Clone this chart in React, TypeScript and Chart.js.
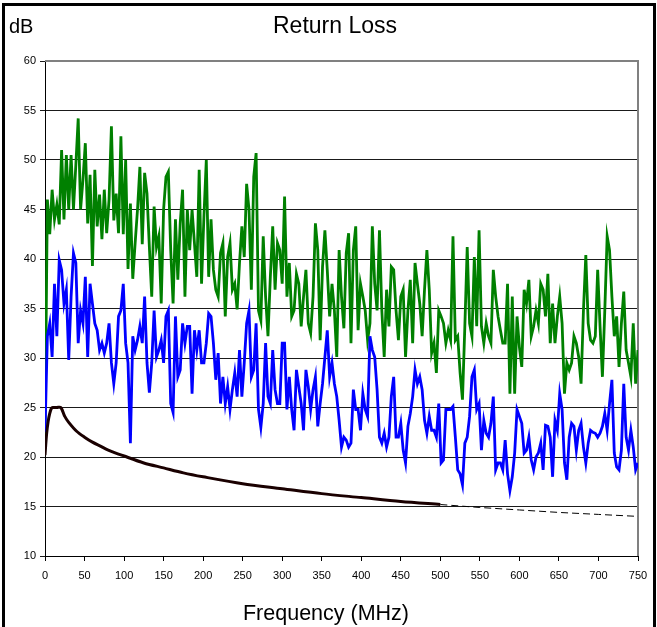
import React, { useEffect, useRef } from "react";
import { Chart, registerables } from "chart.js";

Chart.register(...registerables);

// Measured return loss, green pair (dB), sampled every 3 MHz from 0 to 750 MHz
const greenDb = [
  22, 46, 42.5, 47, 44, 45.5, 43.5, 51, 44, 50.5,
  45, 50.5, 45, 49.5, 54.2, 45, 48, 51.7, 43.6, 48.5,
  39.3, 49, 43.3, 46.5, 42, 47, 42.6, 46, 53.4, 43.9,
  46.6, 42.6, 52.4, 42.5, 50, 39, 45.6, 38, 41.6, 45,
  49.3, 41.5,
  48.7, 46.6, 41.2, 36.2, 45.3, 41.2, 42.3, 35.5, 45, 48.3,
  48.8, 40.9, 35.5, 44, 37.9, 43.6, 47, 36.2, 45, 40.9,
  45, 41.6, 38.2, 49, 37.5, 44.3, 50, 38.2, 44, 38.9,
  36.9, 36.2, 40.6, 41.6, 34.2, 40.2, 41.6, 36.9, 37.5, 34.9,
  39.6, 43.3,
  40.2, 47.6, 45, 36.9, 48.3, 50.7, 34.8, 33.8, 42.3, 36.2,
  32.2, 38.2, 43.3, 36.9, 41.6, 40.9, 37.5, 46.3, 36.2, 39.6,
  34.2, 34.8, 38.5, 37.5, 33.2, 36.2, 38.9, 33.5, 32.5, 36.2,
  43.6, 40.9, 31.8, 39.2, 42.9, 38.9, 34.2, 37.5, 34.8, 30.1,
  40.9, 36.2,
  33, 40.6, 42.6, 31.5, 40.9, 43.3, 32.8, 37.5, 36.2, 34.8,
  31.8, 33.5, 43.3, 37.5, 34.8, 42.9, 34.8, 30.1, 36.9, 33.2,
  39.2, 38.9, 34.8, 31.8, 36.2, 36.9, 30.1, 34.8, 37.9, 31.5,
  39.6, 37.5, 35.5, 32.2, 36.9, 40.9, 36.9, 30.5, 31.5, 28.5,
  34.8, 34.2,
  33.5, 31.5, 32.8, 31.8, 42.3, 31.8, 32.2, 28.5, 25.8, 33.2,
  41.2, 33.5, 32.2, 40.2, 33.2, 42.9, 33.2, 31.5, 33.5, 32.2,
  31.5, 38.9, 36.2, 34.2, 32.8, 31.5, 31.5, 37.5, 26.4, 36.2,
  26.4, 34.2, 31.1, 29.1, 36.9, 35.5, 37.9, 32.2, 33.2, 34.8,
  33.5, 37.5,
  36.9, 34.2, 38.5, 31.5, 35.5, 31.5, 34.2, 36.2, 33.5, 26.4,
  29.5, 28.8, 29.5, 32.2, 31.5, 30.1, 27.4, 34.8, 40.4, 33.5,
  31.8, 31.5, 32.2, 38.9, 33.2, 28.1, 34.8, 42.3, 40.9, 36.2,
  32.2, 34.2, 29.1, 33.5, 36.7, 30.8, 29.5, 28.1, 33.5, 27.4,
  30.8,
];

// Measured return loss, blue pair (dB), same 3 MHz grid
const blueDb = [
  22.5, 32.2, 33.5, 30.1, 37.5, 32.2, 39.9, 38.9, 35.5, 36.9,
  29.8, 36.2, 40.6, 39.6, 31.5, 34.8, 33.5, 38.2, 30.1, 37.5,
  35.5, 33.5, 32.8, 30.8, 31.5, 30.5, 31.5, 33.5, 29.5, 27.4,
  29.5, 34.2, 34.8, 37.5, 31.5, 29.5, 21.4, 32.2, 30.8, 31.8,
  33.2, 31.5,
  36.2, 29.5, 26.5, 29.5, 34.8, 30.1, 30.8, 31.8, 29.5, 34.2,
  34.8, 25.4, 24.5, 34.2, 28.1, 28.8, 33.5, 31.5, 33.2, 33.2,
  26.4, 32.8, 30.8, 32.8, 29.5, 29.5, 31.5, 34.5, 34.2, 31.5,
  27.8, 30.5, 25.4, 28.1, 25.4, 27.1, 24.8, 26.8, 28.5, 26.1,
  30.8, 26.1,
  29.5, 33.5, 34.8, 28.1, 28.8, 33.5, 24.8, 23, 25.4, 31.5,
  26.1, 25.4, 30.8, 26.8, 25.4, 25.4, 31.5, 31.5, 24.8, 28.1,
  24.8, 22.7, 28.8, 27.1, 25.4, 22.7, 28.8, 27.1, 24.8, 26.8,
  28.1, 23.1, 25.4, 27.4, 30.1, 32.8, 28.1, 29.5, 27.4, 26.1,
  23.7, 21,
  22, 21.7, 21, 21.4, 26.8, 24.8, 24.8, 22.7, 26.4, 24.8,
  24.1, 32.2, 30.8, 30.1, 26.8, 22, 21.4, 22.4, 21, 22,
  26.1, 28.1, 22, 22, 23.4, 20.7, 19.4, 23.1, 24.4, 26.1,
  28.8, 27.4, 28.1, 26.8, 23.7, 22.4, 24.1, 22.7, 22.7, 22,
  25.4, 19.4,
  19.7, 24.8, 24.8, 24.8, 25.1, 22, 18.7, 18.3, 17.2, 21.4,
  22, 24.1, 28.1, 28.8, 24.8, 25.4, 20.7, 23.7, 22.4, 22,
  23.4, 26.1, 18.7, 19.4, 19.4, 18.7, 21.7, 18.3, 16.6, 18,
  20.4, 24.8, 24.1, 23.4, 20.4, 20.7, 22, 19.7, 18.7, 20,
  20.4, 21.4,
  18.7, 23.2, 23.1, 22, 18, 23.7, 22.7, 26.4, 24.8, 19.4,
  17.7, 22, 23.4, 23.1, 20.7, 22.7, 23.4, 21, 19.4, 21.4,
  22.7, 22.5, 22.4, 22, 22.4, 23.1, 24.4, 22.7, 25.4, 27.8,
  20.4, 19, 18.7, 20.7, 27.4, 22, 20.7, 22.7, 21, 18.7,
  19.4,
];

// Frequencies (MHz) of the measured points
const measFreqMHz = greenDb.map((_, i) => i * 3);

// Limit line (solid, up to 500 MHz)
const limitFreqMHz = [0, 2, 4, 6, 8, 10, 15, 20, 25, 30, 40, 50, 60, 70, 80, 100, 125, 150, 175, 200, 250, 300, 350, 400, 450, 500];
const limitDb = [20.2, 22.3, 23.6, 24.4, 24.9, 25, 25, 25, 24.1, 23.5, 22.6, 22, 21.5, 21.1, 20.7, 20.1, 19.4, 18.9, 18.4, 18.0, 17.3, 16.8, 16.3, 15.9, 15.5, 15.2];

// Extrapolated limit (dashed, 500 to 750 MHz)
const extFreqMHz = [500, 550, 600, 650, 700, 750];
const extDb = [15.2, 14.9, 14.65, 14.4, 14.2, 14.0];

const FONT = '"Liberation Sans", Arial, Helvetica, sans-serif';

const pts = (xs: number[], ys: number[]) => xs.map((x, i) => ({ x, y: ys[i] }));

const textPlugin = {
  id: "rlTexts",
  afterDraw(chart: any) {
    const ctx = chart.ctx;
    ctx.save();
    ctx.fillStyle = "#000";
    ctx.textBaseline = "alphabetic";
    ctx.font = `20px ${FONT}`;
    ctx.textAlign = "left";
    ctx.fillText("dB", 9, 33);
    ctx.font = `23px ${FONT}`;
    ctx.textAlign = "center";
    ctx.fillText("Return Loss", 335, 33);
    ctx.font = `21.5px ${FONT}`;
    ctx.fillText("Frequency (MHz)", 326, 620);
    ctx.restore();
  },
};

const borderPlugin = {
  id: "plotBorder",
  beforeDatasetsDraw(chart: any) {
    const { ctx, chartArea } = chart;
    ctx.save();
    ctx.strokeStyle = "#808080";
    ctx.lineWidth = 2;
    ctx.beginPath();
    ctx.moveTo(chartArea.left, chartArea.top);
    ctx.lineTo(chartArea.right, chartArea.top);
    ctx.lineTo(chartArea.right, chartArea.bottom);
    ctx.stroke();
    ctx.restore();
  },
};

export default function App() {
  const canvasRef = useRef<HTMLCanvasElement | null>(null);

  useEffect(() => {
    if (!canvasRef.current) return;
    const chart = new Chart(canvasRef.current, {
      type: "line",
      data: {
        datasets: [
          {
            label: "Limit",
            data: pts(limitFreqMHz, limitDb),
            borderColor: "#1a0000",
            borderWidth: 3,
            pointRadius: 0,
            tension: 0.3,
          },
          {
            label: "Limit (extended)",
            data: pts(extFreqMHz, extDb),
            borderColor: "#000",
            borderWidth: 1,
            borderDash: [7, 4],
            pointRadius: 0,
            tension: 0,
          },
          {
            label: "Blue pair",
            data: pts(measFreqMHz, blueDb),
            borderColor: "#0000ff",
            borderWidth: 2.8,
            pointRadius: 0,
            tension: 0,
          },
          {
            label: "Green pair",
            data: pts(measFreqMHz, greenDb),
            borderColor: "#008000",
            borderWidth: 2.8,
            pointRadius: 0,
            tension: 0,
          },
        ],
      },
      options: {
        responsive: false,
        animation: false,
        events: [],
        layout: { padding: { top: 61, right: 19, left: 0, bottom: 0 } },
        plugins: {
          legend: { display: false },
          title: { display: false },
          tooltip: { enabled: false },
        },
        scales: {
          x: {
            type: "linear",
            min: 0,
            max: 750,
            afterFit: (s: any) => {
              s.height = 71;
            },
            ticks: {
              stepSize: 50,
              autoSkip: false,
              maxRotation: 0,
              color: "#000",
              padding: 8,
              font: { family: FONT, size: 11 },
            },
            grid: {
              drawOnChartArea: false,
              drawTicks: true,
              tickLength: 5,
              color: "#000",
            },
            border: { display: true, color: "#000", width: 1 },
          },
          y: {
            type: "linear",
            min: 10,
            max: 60,
            afterFit: (s: any) => {
              s.width = 45;
            },
            ticks: {
              stepSize: 5,
              color: "#000",
              padding: 4,
              font: { family: FONT, size: 11 },
            },
            grid: {
              drawTicks: true,
              tickLength: 5,
              color: "#1a1a1a",
              lineWidth: 1,
            },
            border: { display: true, color: "#000", width: 1 },
          },
        },
      },
      plugins: [borderPlugin, textPlugin],
    });
    return () => chart.destroy();
  }, []);

  return (
    <div
      style={{
        position: "fixed",
        left: 0,
        top: 0,
        width: 657,
        height: 627,
        overflow: "hidden",
        background: "#fff",
      }}
    >
      <canvas ref={canvasRef} width={657} height={627} style={{ position: "absolute", left: 0, top: 0 }} />
      <div
        style={{
          position: "absolute",
          left: 2,
          top: 3,
          width: 654,
          height: 660,
          border: "3px solid #000",
          boxSizing: "border-box",
          pointerEvents: "none",
        }}
      />
    </div>
  );
}
